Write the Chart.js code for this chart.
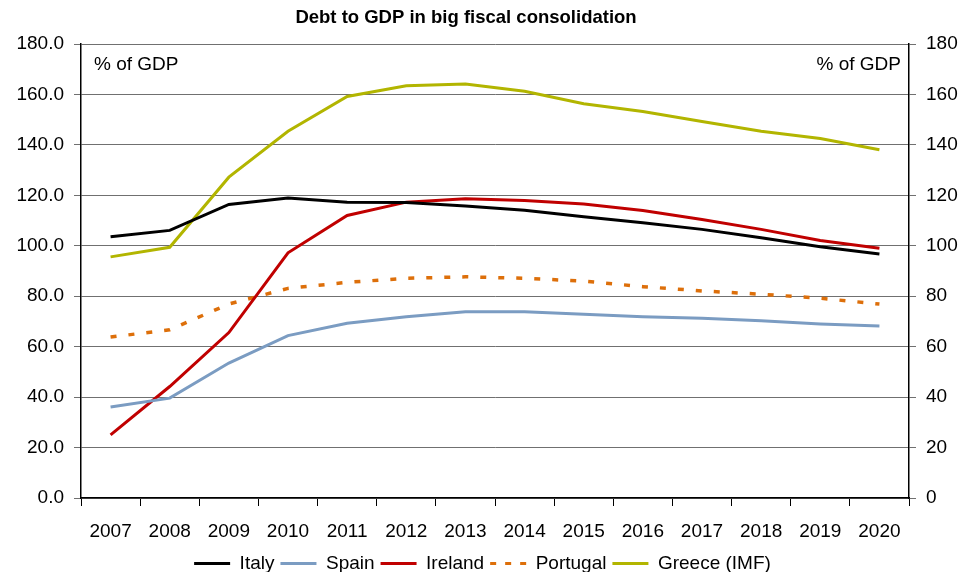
<!DOCTYPE html>
<html>
<head>
<meta charset="utf-8">
<script src="https://cdn.jsdelivr.net/npm/chart.js@4.4.1/dist/chart.umd.min.js"></script>
<style>
    html, body { margin: 0; padding: 0; background: #fff; }
    #wrap { width: 965px; height: 572px; position: relative; }
</style>
</head>
<body>
<div id="wrap"><canvas id="myChart"></canvas></div>
<script>
// years on the x axis
var years = ['2007', '2008', '2009', '2010', '2011', '2012', '2013', '2014', '2015', '2016', '2017', '2018', '2019', '2020'];

// debt to GDP, % of GDP
var italy    = [103.6, 106.1, 116.4, 118.9, 117.3, 117.2, 115.8, 114.1, 111.5, 109.1, 106.5, 103.2, 99.6, 96.7];
var spain    = [36.1, 39.6, 53.5, 64.4, 69.3, 71.9, 73.8, 73.8, 72.9, 71.9, 71.3, 70.3, 69.0, 68.2];
var ireland  = [25.0, 44.2, 65.6, 97.2, 112.0, 117.3, 118.6, 118.0, 116.6, 114.0, 110.4, 106.5, 102.1, 99.0];
var portugal = [63.8, 66.7, 76.9, 83.1, 85.5, 87.1, 87.7, 87.1, 86.0, 83.8, 82.1, 80.8, 79.2, 76.9];
var greece   = [95.6, 99.4, 127.2, 145.4, 159.2, 163.4, 164.1, 161.3, 156.3, 153.2, 149.3, 145.4, 142.5, 138.1];

var titleText = 'Debt to GDP in big fiscal consolidation';
var unitText = '% of GDP';

var font = "'Liberation Sans', Arial, sans-serif";

// title + "% of GDP" notes drawn on the canvas
var extraText = {
    id: 'extraText',
    afterDraw: function (chart) {
        var c = chart.ctx;
        var area = chart.chartArea;
        c.save();
        c.fillStyle = '#000';
        c.textBaseline = 'middle';
        c.font = 'bold 18.5px ' + font;
        c.textAlign = 'center';
        c.fillText(titleText, 466, 18);
        c.font = '19px ' + font;
        c.textAlign = 'left';
        c.fillText(unitText, area.left + 13, area.top + 21);
        c.textAlign = 'right';
        c.fillText(unitText, area.right - 8, area.top + 21);
        c.restore();
    }
};

var ctx = document.getElementById('myChart').getContext('2d');

var myChart = new Chart(ctx, {
    type: 'line',
    data: {
        labels: years,
        datasets: [
            { label: 'Italy', data: italy, borderColor: '#000000', backgroundColor: '#000000', borderWidth: 3 },
            { label: 'Spain', data: spain, borderColor: '#7b9cc2', backgroundColor: '#7b9cc2', borderWidth: 3 },
            { label: 'Ireland', data: ireland, borderColor: '#c00000', backgroundColor: '#c00000', borderWidth: 3 },
            { label: 'Portugal', data: portugal, borderColor: '#dd6f0a', backgroundColor: '#dd6f0a', borderDash: [6, 12], borderWidth: 3.5 },
            { label: 'Greece (IMF)', data: greece, borderColor: '#b2b500', backgroundColor: '#b2b500', borderWidth: 3 }
        ]
    },
    options: {
        responsive: true,
        maintainAspectRatio: false,
        animation: false,
        devicePixelRatio: 1,
        layout: { padding: { top: 44, left: 0, right: 0, bottom: -11 } },
        elements: {
            line: { tension: 0, fill: false },
            point: { radius: 0 }
        },
        plugins: {
            title: { display: false },
            tooltip: { enabled: false },
            legend: {
                position: 'bottom',
                labels: {
                    usePointStyle: true,
                    pointStyle: 'line',
                    pointStyleWidth: 36,
                    boxHeight: 18,
                    padding: 6,
                    color: '#000',
                    font: { family: font, size: 19 },
                    generateLabels: function (chart) {
                        return chart.data.datasets.map(function (ds, i) {
                            return {
                                text: ds.label,
                                datasetIndex: i,
                                fillStyle: ds.borderColor,
                                strokeStyle: ds.borderColor,
                                fontColor: '#000',
                                lineWidth: 3,
                                lineDash: ds.borderDash ? [6, 9] : [],
                                pointStyle: 'line',
                                hidden: false
                            };
                        });
                    }
                }
            }
        },
        scales: {
            x: {
                offset: true,
                border: { color: '#000', width: 1.5 },
                grid: { offset: true, drawOnChartArea: false, color: '#000', tickLength: 8 },
                ticks: { color: '#000', padding: 14, maxRotation: 0, font: { family: font, size: 19 } },
                afterFit: function (scale) { scale.height = 50; }
            },
            y: {
                position: 'left',
                min: 0,
                max: 180,
                border: { color: '#000', width: 1.5 },
                grid: { color: '#707070', lineWidth: 1, tickLength: 7 },
                ticks: {
                    stepSize: 20,
                    color: '#000',
                    padding: 10,
                    font: { family: font, size: 19 },
                    callback: function (v) { return v.toFixed(1); }
                },
                afterFit: function (scale) { scale.width = 81; }
            },
            y2: {
                position: 'right',
                min: 0,
                max: 180,
                border: { color: '#000', width: 1.5 },
                grid: { drawOnChartArea: false, color: '#707070', tickLength: 7 },
                ticks: {
                    stepSize: 20,
                    color: '#000',
                    padding: 10,
                    font: { family: font, size: 19 }
                },
                afterFit: function (scale) { scale.width = 56; }
            }
        }
    },
    plugins: [extraText]
});
</script>
</body>
</html>
